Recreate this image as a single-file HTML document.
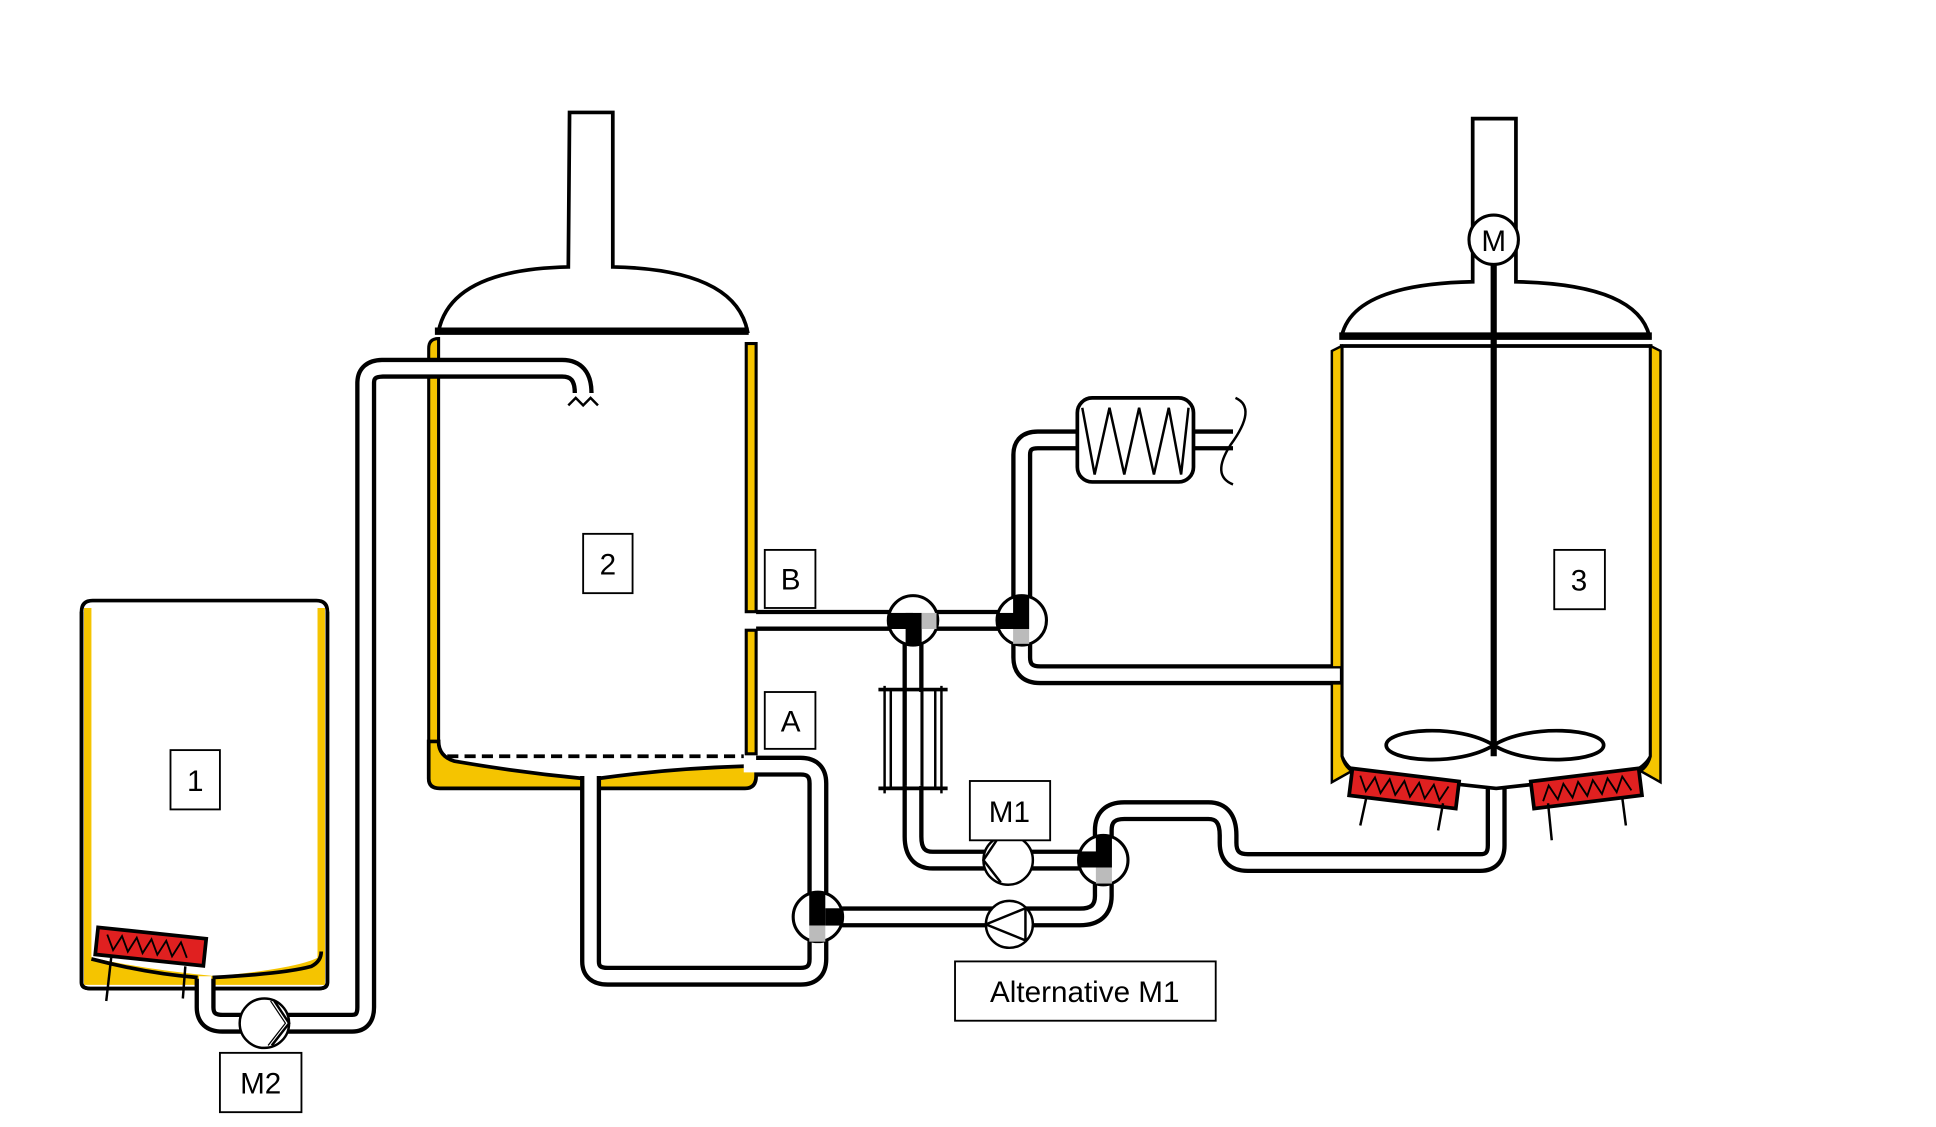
<!DOCTYPE html>
<html><head><style>
html,body{margin:0;padding:0;background:#fff;overflow:hidden}
svg{display:block}
text{font-family:"Liberation Sans",sans-serif;fill:#000}
</style></head><body>
<svg width="1936" height="1127" viewBox="0 0 1567 912" preserveAspectRatio="none" xmlns="http://www.w3.org/2000/svg">
<rect width="1567" height="912" fill="#fff"/>

<!-- Tank 1 -->
<path d="M66,495 Q66,486 75,486 L256,486 Q265,486 265,495 L265,795 Q265,800 258,800 L73,800 Q66,800 66,795 Z" fill="#fff" stroke="#000" stroke-width="3"/>
<rect x="68" y="492" width="6" height="300" fill="#f5c400"/>
<rect x="257" y="492" width="6" height="300" fill="#f5c400"/>
<path d="M68,770 L68,797 L263,797 L263,770 Q258,782 175,790 Q120,785 75,775 Z" fill="#f5c400"/>
<path d="M74,776 Q120,788 160,791 M172,791 Q230,788 252,782 Q260,778 260,770" fill="none" stroke="#000" stroke-width="3"/>
<path d="M66,495 L66,795 Q66,800 73,800 L258,800 Q265,800 265,795 L265,495" fill="none" stroke="#000" stroke-width="3"/>
<g transform="rotate(6 122 766)">
<rect x="78" y="755" width="88" height="22" fill="#e02020" stroke="#000" stroke-width="3"/>
<polyline points="86,760 92,772 98,760 104,772 110,760 116,772 122,760 128,772 134,760 140,772 146,760 152,772" fill="none" stroke="#000" stroke-width="1.5"/>
</g>
<line x1="90" y1="775" x2="86" y2="810" stroke="#000" stroke-width="2"/>
<line x1="150" y1="782" x2="148" y2="808" stroke="#000" stroke-width="2"/>

<!-- Tank 2 body -->
<path d="M355,268 Q365,218 460,216 L461,91 L496,91 L496,216 Q595,218 605,268 Z" fill="#fff" stroke="#000" stroke-width="3"/>
<line x1="352" y1="268" x2="606" y2="268" stroke="#000" stroke-width="6"/>
<rect x="347" y="274" width="265" height="362" fill="#fff"/>
<path d="M347,282 Q347,274 355,274 L355,630 L347,630 Z" fill="#f5c400" stroke="#000" stroke-width="2.5"/>
<rect x="604" y="278" width="8" height="217" fill="#f5c400" stroke="#000" stroke-width="2.5"/>
<rect x="604" y="510" width="8" height="100" fill="#f5c400" stroke="#000" stroke-width="2.5"/>
<path d="M347,600 L347,630 Q347,638 356,638 L603,638 Q612,638 612,628 L612,620 L604,620 Q540,622 484,630 L472,630 Q420,625 368,616 Q355,612 355,600 Z" fill="#f5c400" stroke="#000" stroke-width="3"/>
<line x1="362" y1="612" x2="602" y2="612" stroke="#000" stroke-width="3" stroke-dasharray="9,5"/>

<!-- Pipes (outline + white) -->
<g fill="none" stroke-linejoin="round">
<g stroke="#000" stroke-width="17">
<path d="M166,792 L166,815 Q166,828 180,828 L285,828 Q296,828 296,815 L296,310 Q296,298 310,298 L455,298 Q472,298 472,318"/>
<path d="M478,628 L478,778 Q478,790 492,790 L648,790 Q662,790 662,776 L662,634 Q662,620 648,620 L612,620"/>
<path d="M612,502 L826,502"/>
<path d="M827,502 L827,368 Q827,356 840,356 L875,356"/>
<path d="M966,356 L998,356"/>
<path d="M827,502 L827,532 Q827,546 842,546 L1085,546"/>
<path d="M739,502 L739,677 Q739,696 755,696 L893,696"/>
<path d="M662,742 L874,742 Q893,742 893,725 L893,672 Q893,656 910,656 L978,656 Q994,656 994,676 L994,682 Q994,698 1010,698 L1198,698 Q1211,698 1211,684 L1211,632"/>
</g>
<g stroke="#fff" stroke-width="10">
<path d="M166,790 L166,815 Q166,828 180,828 L285,828 Q296,828 296,815 L296,310 Q296,298 310,298 L455,298 Q472,298 472,318"/>
<path d="M478,626 L478,778 Q478,790 492,790 L648,790 Q662,790 662,776 L662,634 Q662,620 648,620 L602,620"/>
<path d="M602,502 L826,502"/>
<path d="M827,502 L827,368 Q827,356 840,356 L875,356"/>
<path d="M966,356 L998,356"/>
<path d="M827,502 L827,532 Q827,546 842,546 L1087,546"/>
<path d="M739,502 L739,677 Q739,696 755,696 L893,696"/>
<path d="M662,742 L874,742 Q893,742 893,725 L893,672 Q893,656 910,656 L978,656 Q994,656 994,676 L994,682 Q994,698 1010,698 L1198,698 Q1211,698 1211,684 L1211,630"/>
</g>
</g>
<path d="M460,328 L466,322 L472,328 L478,322 L484,328" fill="none" stroke="#000" stroke-width="2"/>
<path d="M1000,322 Q1018,330 996,360 Q980,385 998,392" fill="none" stroke="#000" stroke-width="2"/>

<!-- Heat exchanger -->
<rect x="872" y="322" width="94" height="68" rx="12" fill="#fff" stroke="#000" stroke-width="3"/>
<polyline points="876,330 886,384 898,330 910,384 922,330 934,384 946,330 956,384 962,330" fill="none" stroke="#000" stroke-width="2"/>

<!-- Filter -->
<g stroke="#000" fill="none">
<line x1="711" y1="558" x2="767" y2="558" stroke-width="3"/>
<line x1="711" y1="638" x2="767" y2="638" stroke-width="3"/>
<line x1="716" y1="555" x2="716" y2="642" stroke-width="2"/>
<line x1="721" y1="558" x2="721" y2="638" stroke-width="2"/>
<line x1="757" y1="558" x2="757" y2="638" stroke-width="2"/>
<line x1="762" y1="555" x2="762" y2="642" stroke-width="2"/>
<rect x="733" y="560" width="13" height="76" fill="#fff" stroke="none"/>
<line x1="733" y1="560" x2="733" y2="636" stroke-width="2"/>
<line x1="746" y1="560" x2="746" y2="636" stroke-width="2"/>
</g>

<!-- Valves -->
<g stroke="#000" stroke-width="2.5">
<circle cx="739" cy="502" r="20" fill="#fff"/>
<rect x="720" y="496" width="19" height="13" fill="#000" stroke="none"/>
<rect x="733" y="496" width="13" height="26" fill="#000" stroke="none"/>
<rect x="746" y="496" width="12" height="13" fill="#bbb" stroke="none"/>

<circle cx="827" cy="502" r="20" fill="#fff"/>
<rect x="808" y="496" width="19" height="13" fill="#000" stroke="none"/>
<rect x="820" y="482" width="13" height="27" fill="#000" stroke="none"/>
<rect x="820" y="509" width="13" height="12" fill="#bbb" stroke="none"/>

<circle cx="893" cy="696" r="20" fill="#fff"/>
<rect x="874" y="689" width="19" height="13" fill="#000" stroke="none"/>
<rect x="887" y="676" width="13" height="26" fill="#000" stroke="none"/>
<rect x="887" y="702" width="13" height="13" fill="#bbb" stroke="none"/>

<circle cx="662" cy="742" r="20" fill="#fff"/>
<rect x="655" y="722" width="13" height="27" fill="#000" stroke="none"/>
<rect x="668" y="735" width="14" height="14" fill="#000" stroke="none"/>
<rect x="655" y="749" width="13" height="13" fill="#bbb" stroke="none"/>
</g>

<!-- Pumps -->
<g stroke="#000" stroke-width="2" fill="#fff">
<circle cx="214" cy="828" r="20"/>
<polyline points="222,810 234,828 220,846" fill="none"/>
<polyline points="219,810 231,828 217,846" fill="none" stroke-width="1"/>
<circle cx="816" cy="696" r="20"/>
<polyline points="808,678 796,696 810,714" fill="none"/>
<circle cx="817" cy="748" r="19"/>
<polygon points="830,735 798,748 830,761" fill="none"/>
</g>

<!-- Tank 3 -->
<path d="M1086,272 Q1095,230 1192,228 L1192,96 L1227,96 L1227,228 Q1325,230 1335,272 Z" fill="#fff" stroke="#000" stroke-width="3"/>
<line x1="1084" y1="272" x2="1337" y2="272" stroke="#000" stroke-width="6"/>
<path d="M1086,280 L1086,612 Q1090,622 1100,626 L1211,638 L1320,626 Q1332,620 1336,612 L1336,280 Z" fill="#fff" stroke="#000" stroke-width="3"/>
<path d="M1078,284 L1086,280 L1086,540 L1078,540 Z" fill="#f5c400" stroke="#000" stroke-width="2"/>
<path d="M1078,553 L1086,553 L1086,612 Q1088,620 1094,624 L1078,633 Z" fill="#f5c400" stroke="#000" stroke-width="2"/>
<path d="M1336,280 L1344,284 L1344,633 L1328,624 Q1334,620 1336,612 Z" fill="#f5c400" stroke="#000" stroke-width="2"/>
<line x1="1209" y1="210" x2="1209" y2="612" stroke="#000" stroke-width="5"/>
<circle cx="1209" cy="194" r="20" fill="#fff" stroke="#000" stroke-width="2.5"/>
<path d="M1209,603 C1180,585 1122,590 1122,603 C1122,616 1180,621 1209,603 C1238,585 1298,590 1298,603 C1298,616 1238,621 1209,603 Z" fill="none" stroke="#000" stroke-width="3"/>
<g transform="rotate(7 1136 638)">
<rect x="1093" y="627" width="87" height="22" fill="#e02020" stroke="#000" stroke-width="3"/>
<polyline points="1100,632 1106,644 1112,632 1118,644 1124,632 1130,644 1136,632 1142,644 1148,632 1154,644 1160,632 1166,644 1172,632" fill="none" stroke="#000" stroke-width="1.5"/>
</g>
<g transform="rotate(-7 1284 638)">
<rect x="1240" y="627" width="88" height="22" fill="#e02020" stroke="#000" stroke-width="3"/>
<polyline points="1248,644 1254,632 1260,644 1266,632 1272,644 1278,632 1284,644 1290,632 1296,644 1302,632 1308,644 1314,632 1320,644" fill="none" stroke="#000" stroke-width="1.5"/>
</g>
<g stroke="#000" stroke-width="2">
<line x1="1106" y1="645" x2="1101" y2="668"/>
<line x1="1168" y1="650" x2="1164" y2="672"/>
<line x1="1253" y1="650" x2="1256" y2="680"/>
<line x1="1313" y1="645" x2="1316" y2="668"/>
</g>

<!-- Labels -->
<g fill="#fff" stroke="#000" stroke-width="1.5">
<rect x="138" y="607" width="40" height="48"/>
<rect x="472" y="432" width="40" height="48"/>
<rect x="619" y="445" width="41" height="47"/>
<rect x="619" y="560" width="41" height="46"/>
<rect x="1258" y="445" width="41" height="48"/>
<rect x="785" y="632" width="65" height="48"/>
<rect x="773" y="778" width="211" height="48"/>
<rect x="178" y="852" width="66" height="48"/>
</g>
<g font-size="24" text-anchor="middle">
<text x="158" y="640">1</text>
<text x="492" y="465">2</text>
<text x="640" y="477">B</text>
<text x="640" y="592">A</text>
<text x="1278" y="478">3</text>
<text x="817" y="665">M1</text>
<text x="878" y="811">Alternative M1</text>
<text x="211" y="885">M2</text>
<text x="1209" y="203">M</text>
</g>
</svg>
</body></html>
